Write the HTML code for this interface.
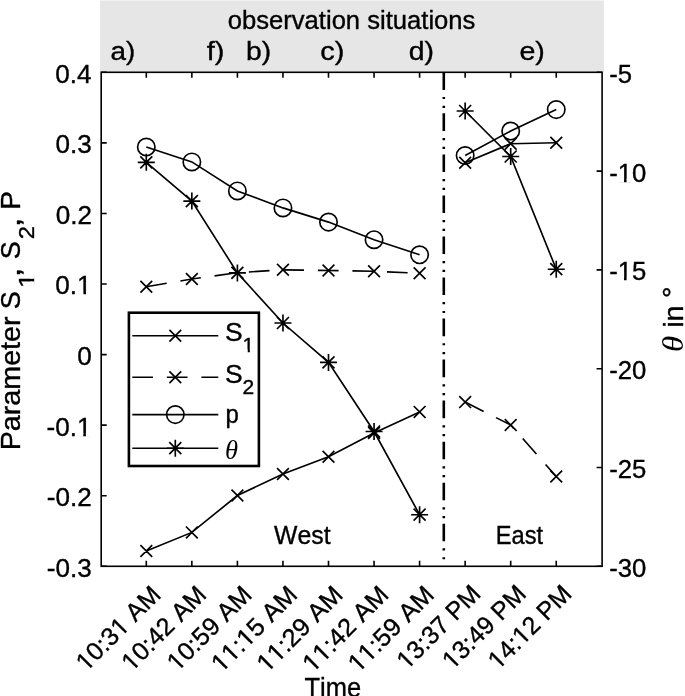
<!DOCTYPE html>
<html><head><meta charset="utf-8"><title>chart</title>
<style>html,body{margin:0;padding:0;background:#fff}svg{display:block}</style></head>
<body><svg width="685" height="696" viewBox="0 0 685 696">
<rect width="685" height="696" fill="#fff"/>
<rect x="100.0" y="0.5" width="503.9" height="71.8" fill="#e6e6e6"/>
<g stroke="#000" stroke-width="1.6" fill="none" stroke-linecap="butt">
<rect x="101.2" y="72.3" width="500.90" height="494.00"/>
<path d="M146.30 72.3v5.5M146.30 566.3v-5.5M191.85 72.3v5.5M191.85 566.3v-5.5M237.40 72.3v5.5M237.40 566.3v-5.5M282.95 72.3v5.5M282.95 566.3v-5.5M328.50 72.3v5.5M328.50 566.3v-5.5M374.05 72.3v5.5M374.05 566.3v-5.5M419.60 72.3v5.5M419.60 566.3v-5.5M465.15 72.3v5.5M465.15 566.3v-5.5M510.70 72.3v5.5M510.70 566.3v-5.5M556.25 72.3v5.5M556.25 566.3v-5.5M101.2 72.30h5.5M101.2 142.87h5.5M101.2 213.44h5.5M101.2 284.01h5.5M101.2 354.59h5.5M101.2 425.16h5.5M101.2 495.73h5.5M101.2 566.30h5.5M602.1 72.30h-5.5M602.1 171.10h-5.5M602.1 269.90h-5.5M602.1 368.70h-5.5M602.1 467.50h-5.5M602.1 566.30h-5.5"/>
</g>
<g stroke="#000" stroke-width="1.65" fill="none">
<polyline points="146.30,551.00 191.85,532.40 237.40,495.50 282.95,474.00 328.50,456.70 374.05,432.90 419.60,411.90" />
<polyline points="465.15,162.70 510.70,143.70 556.25,142.80" />
<polyline points="146.30,286.70 191.85,279.00 237.40,272.70 282.95,269.80 328.50,270.50 374.05,271.30 419.60,273.20" stroke-dasharray="20.7 13.85"/>
<polyline points="465.15,402.10 510.70,425.00 556.25,476.50" stroke-dasharray="20.7 13.85"/>
<polyline points="146.30,147.00 191.85,161.90 237.40,190.90 282.95,207.90 328.50,222.10 374.05,239.70 419.60,254.80" />
<polyline points="465.15,155.50 510.70,131.00 556.25,109.60" />
<polyline points="146.30,162.30 191.85,201.10 237.40,272.90 282.95,323.00 328.50,362.40 374.05,431.50 419.60,514.70" />
<polyline points="465.15,111.00 510.70,156.50 556.25,269.20" />
<path d="M140.40 545.10L152.20 556.90M140.40 556.90L152.20 545.10M140.40 280.80L152.20 292.60M140.40 292.60L152.20 280.80M140.30 156.30L152.30 168.30M140.30 168.30L152.30 156.30M137.80 162.30H154.80M146.30 153.80V170.80M185.95 526.50L197.75 538.30M185.95 538.30L197.75 526.50M185.95 273.10L197.75 284.90M185.95 284.90L197.75 273.10M185.85 195.10L197.85 207.10M185.85 207.10L197.85 195.10M183.35 201.10H200.35M191.85 192.60V209.60M231.50 489.60L243.30 501.40M231.50 501.40L243.30 489.60M231.50 266.80L243.30 278.60M231.50 278.60L243.30 266.80M231.40 266.90L243.40 278.90M231.40 278.90L243.40 266.90M228.90 272.90H245.90M237.40 264.40V281.40M277.05 468.10L288.85 479.90M277.05 479.90L288.85 468.10M277.05 263.90L288.85 275.70M277.05 275.70L288.85 263.90M276.95 317.00L288.95 329.00M276.95 329.00L288.95 317.00M274.45 323.00H291.45M282.95 314.50V331.50M322.60 450.80L334.40 462.60M322.60 462.60L334.40 450.80M322.60 264.60L334.40 276.40M322.60 276.40L334.40 264.60M322.50 356.40L334.50 368.40M322.50 368.40L334.50 356.40M320.00 362.40H337.00M328.50 353.90V370.90M368.15 427.00L379.95 438.80M368.15 438.80L379.95 427.00M368.15 265.40L379.95 277.20M368.15 277.20L379.95 265.40M368.05 425.50L380.05 437.50M368.05 437.50L380.05 425.50M365.55 431.50H382.55M374.05 423.00V440.00M413.70 406.00L425.50 417.80M413.70 417.80L425.50 406.00M413.70 267.30L425.50 279.10M413.70 279.10L425.50 267.30M413.60 508.70L425.60 520.70M413.60 520.70L425.60 508.70M411.10 514.70H428.10M419.60 506.20V523.20M459.25 156.80L471.05 168.60M459.25 168.60L471.05 156.80M459.25 396.20L471.05 408.00M459.25 408.00L471.05 396.20M459.15 105.00L471.15 117.00M459.15 117.00L471.15 105.00M456.65 111.00H473.65M465.15 102.50V119.50M504.80 137.80L516.60 149.60M504.80 149.60L516.60 137.80M504.80 419.10L516.60 430.90M504.80 430.90L516.60 419.10M504.70 150.50L516.70 162.50M504.70 162.50L516.70 150.50M502.20 156.50H519.20M510.70 148.00V165.00M550.35 136.90L562.15 148.70M550.35 148.70L562.15 136.90M550.35 470.60L562.15 482.40M550.35 482.40L562.15 470.60M550.25 263.20L562.25 275.20M550.25 275.20L562.25 263.20M547.75 269.20H564.75M556.25 260.70V277.70"/>
<circle cx="146.30" cy="147.00" r="8.7"/>
<circle cx="191.85" cy="161.90" r="8.7"/>
<circle cx="237.40" cy="190.90" r="8.7"/>
<circle cx="282.95" cy="207.90" r="8.7"/>
<circle cx="328.50" cy="222.10" r="8.7"/>
<circle cx="374.05" cy="239.70" r="8.7"/>
<circle cx="419.60" cy="254.80" r="8.7"/>
<circle cx="465.15" cy="155.50" r="8.7"/>
<circle cx="510.70" cy="131.00" r="8.7"/>
<circle cx="556.25" cy="109.60" r="8.7"/>
</g>
<line x1="443.8" y1="72.3" x2="443.8" y2="564.3" stroke="#000" stroke-width="2.6" stroke-dasharray="17.6 7.0 2.2 6.6 2.2 5.44"/>
<rect x="128.9" y="312.7" width="130.0" height="153.3" fill="#fff" stroke="#000" stroke-width="2.6"/>
<g stroke="#000" stroke-width="1.65" fill="none">
<line x1="132.3" y1="335.7" x2="218.3" y2="335.7" />
<line x1="132.3" y1="377.2" x2="218.3" y2="377.2" stroke-dasharray="20.7 13.85"/>
<line x1="132.3" y1="414.6" x2="218.3" y2="414.6" />
<line x1="132.3" y1="448.2" x2="218.3" y2="448.2" />
<path d="M169.40 329.80L181.20 341.60M169.40 341.60L181.20 329.80M169.40 371.30L181.20 383.10M169.40 383.10L181.20 371.30M169.30 442.20L181.30 454.20M169.30 454.20L181.30 442.20M166.80 448.20H183.80M175.30 439.70V456.70"/>
<circle cx="175.3" cy="414.6" r="8.7"/>
</g>
<g font-family="Liberation Sans, Arial, Helvetica, sans-serif" fill="#000" stroke="#000" stroke-width="0.36" style="font-kerning:none">
<text transform="translate(227.78,29.30) scale(1.0162,1)" font-size="25.2" >observation situations</text>
<text transform="translate(110.56,60.20) scale(1.1038,1)" font-size="25.2" >a)</text>
<text transform="translate(206.77,60.20) scale(1.1481,1)" font-size="25.2" >f)</text>
<text transform="translate(246.08,60.20) scale(1.1221,1)" font-size="25.2" >b)</text>
<text transform="translate(320.21,60.20) scale(1.1483,1)" font-size="25.2" >c)</text>
<text transform="translate(408.67,60.20) scale(1.1270,1)" font-size="25.2" >d)</text>
<text transform="translate(519.42,60.20) scale(1.1342,1)" font-size="25.2" >e)</text>
<text transform="translate(55.15,82.70) scale(1.0350,1)" font-size="25.2" >0.4</text>
<text transform="translate(55.54,153.27) scale(1.0350,1)" font-size="25.2" >0.3</text>
<text transform="translate(55.67,223.84) scale(1.0350,1)" font-size="25.2" >0.2</text>
<text transform="translate(55.27,294.41) scale(1.0350,1)" font-size="25.2" >0.1</text>
<text transform="translate(77.14,364.99) scale(1.0350,1)" font-size="25.2" >0</text>
<text transform="translate(46.47,435.56) scale(1.0350,1)" font-size="25.2" >-0.1</text>
<text transform="translate(46.87,506.13) scale(1.0350,1)" font-size="25.2" >-0.2</text>
<text transform="translate(46.74,576.70) scale(1.0350,1)" font-size="25.2" >-0.3</text>
<text transform="translate(609.15,82.70) scale(1.0195,1)" font-size="25.2" >-5</text>
<text transform="translate(609.15,181.50) scale(1.0195,1)" font-size="25.2" >-10</text>
<text transform="translate(609.15,280.30) scale(1.0195,1)" font-size="25.2" >-15</text>
<text transform="translate(609.15,379.10) scale(1.0195,1)" font-size="25.2" >-20</text>
<text transform="translate(609.15,477.90) scale(1.0195,1)" font-size="25.2" >-25</text>
<text transform="translate(609.15,576.70) scale(1.0195,1)" font-size="25.2" >-30</text>
<text transform="translate(274.08,543.80) scale(0.9850,1)" font-size="25.2" >West</text>
<text transform="translate(495.80,543.80) scale(0.9389,1)" font-size="25.2" >East</text>
<text transform="translate(162.20,596.20) rotate(-45) scale(0.9964,1)" text-anchor="end" font-size="25.2">10:31 AM</text>
<text transform="translate(207.75,596.20) rotate(-45) scale(0.9964,1)" text-anchor="end" font-size="25.2">10:42 AM</text>
<text transform="translate(253.30,596.20) rotate(-45) scale(0.9964,1)" text-anchor="end" font-size="25.2">10:59 AM</text>
<text transform="translate(298.85,596.20) rotate(-45) scale(1.0142,1)" text-anchor="end" font-size="25.2">11:15 AM</text>
<text transform="translate(344.40,596.20) rotate(-45) scale(1.0142,1)" text-anchor="end" font-size="25.2">11:29 AM</text>
<text transform="translate(389.95,596.20) rotate(-45) scale(1.0142,1)" text-anchor="end" font-size="25.2">11:42 AM</text>
<text transform="translate(435.50,596.20) rotate(-45) scale(1.0142,1)" text-anchor="end" font-size="25.2">11:59 AM</text>
<text transform="translate(482.05,595.40) rotate(-45) scale(0.9835,1)" text-anchor="end" font-size="25.2">13:37 PM</text>
<text transform="translate(527.60,595.40) rotate(-45) scale(0.9835,1)" text-anchor="end" font-size="25.2">13:49 PM</text>
<text transform="translate(573.15,595.40) rotate(-45) scale(0.9835,1)" text-anchor="end" font-size="25.2">14:12 PM</text>
<text transform="translate(304.43,696.60) scale(0.9172,1)" font-size="27.8" >Time</text>
<text transform="translate(20.30,450.32) rotate(-90) scale(1.0320,1)" font-size="27.8" >Parameter</text>
<text transform="translate(20.30,309.21) rotate(-90) scale(0.9688,1)" font-size="27.8" >S</text>
<text transform="translate(33.5,287.9) rotate(-90) scale(1.2,1)" font-size="22">1</text>
<text transform="translate(20.30,277.28) rotate(-90) scale(1.2727,1)" font-size="27.8" >,</text>
<text transform="translate(20.30,259.21) rotate(-90) scale(0.9688,1)" font-size="27.8" >S</text>
<text transform="translate(33.50,239.13) rotate(-90) scale(1.0900,1)" font-size="22" >2</text>
<text transform="translate(20.30,227.28) rotate(-90) scale(1.2727,1)" font-size="27.8" >,</text>
<text transform="translate(20.30,209.67) rotate(-90) scale(1.0102,1)" font-size="27.8" >P</text>
<text transform="translate(683.20,352.04) rotate(-90) scale(1.0960,1)" font-size="30" font-family="Liberation Serif, Times New Roman, serif" font-style="italic" stroke="none">θ</text>
<text transform="translate(682.90,327.86) rotate(-90) scale(1.0479,1)" font-size="27.5" >in</text>
<text transform="translate(682.20,297.88) rotate(-90) scale(1.0323,1)" font-size="27.8" >°</text>
<text transform="translate(225,341.4) scale(1.05,1)" font-size="25.2">S</text>
<text transform="translate(242.6,352.0) scale(1.05,1)" font-size="20">1</text>
<text transform="translate(225,383) scale(1.05,1)" font-size="25.2">S</text>
<text transform="translate(242.6,393.6) scale(1.05,1)" font-size="20">2</text>
<text transform="translate(225.4,423) scale(0.95,1)" font-size="25.2">p</text>
<text transform="translate(225,458.7)" font-family="Liberation Serif, Times New Roman, serif" font-style="italic" font-size="26.5" stroke="none">θ</text>
<g transform="translate(55.27,294.41) scale(1.0350,1)" fill="#fff" stroke="none"><rect x="21.80" y="-2.68" width="5.37" height="3.88"/><rect x="29.71" y="-2.68" width="5.16" height="3.88"/></g>
<g transform="translate(46.47,435.56) scale(1.0350,1)" fill="#fff" stroke="none"><rect x="30.19" y="-2.68" width="5.37" height="3.88"/><rect x="38.09" y="-2.68" width="5.16" height="3.88"/></g>
<g transform="translate(609.15,181.50) scale(1.0195,1)" fill="#fff" stroke="none"><rect x="9.20" y="-2.68" width="5.37" height="3.88"/><rect x="17.10" y="-2.68" width="5.16" height="3.88"/></g>
<g transform="translate(609.15,280.30) scale(1.0195,1)" fill="#fff" stroke="none"><rect x="9.20" y="-2.68" width="5.37" height="3.88"/><rect x="17.10" y="-2.68" width="5.16" height="3.88"/></g>
<g transform="translate(162.20,596.20) rotate(-45) scale(0.9964,1)" fill="#fff" stroke="none"><rect x="-106.99" y="-2.68" width="5.37" height="3.88"/><rect x="-99.09" y="-2.68" width="5.16" height="3.88"/></g>
<g transform="translate(162.20,596.20) rotate(-45) scale(0.9964,1)" fill="#fff" stroke="none"><rect x="-57.98" y="-2.68" width="5.37" height="3.88"/><rect x="-50.08" y="-2.68" width="5.16" height="3.88"/></g>
<g transform="translate(207.75,596.20) rotate(-45) scale(0.9964,1)" fill="#fff" stroke="none"><rect x="-106.99" y="-2.68" width="5.37" height="3.88"/><rect x="-99.09" y="-2.68" width="5.16" height="3.88"/></g>
<g transform="translate(253.30,596.20) rotate(-45) scale(0.9964,1)" fill="#fff" stroke="none"><rect x="-106.99" y="-2.68" width="5.37" height="3.88"/><rect x="-99.09" y="-2.68" width="5.16" height="3.88"/></g>
<g transform="translate(298.85,596.20) rotate(-45) scale(1.0142,1)" fill="#fff" stroke="none"><rect x="-106.96" y="-2.68" width="5.37" height="3.88"/><rect x="-99.06" y="-2.68" width="5.16" height="3.88"/></g>
<g transform="translate(298.85,596.20) rotate(-45) scale(1.0142,1)" fill="#fff" stroke="none"><rect x="-92.97" y="-2.68" width="5.37" height="3.88"/><rect x="-85.07" y="-2.68" width="5.16" height="3.88"/></g>
<g transform="translate(298.85,596.20) rotate(-45) scale(1.0142,1)" fill="#fff" stroke="none"><rect x="-71.96" y="-2.68" width="5.37" height="3.88"/><rect x="-64.06" y="-2.68" width="5.16" height="3.88"/></g>
<g transform="translate(344.40,596.20) rotate(-45) scale(1.0142,1)" fill="#fff" stroke="none"><rect x="-106.96" y="-2.68" width="5.37" height="3.88"/><rect x="-99.06" y="-2.68" width="5.16" height="3.88"/></g>
<g transform="translate(344.40,596.20) rotate(-45) scale(1.0142,1)" fill="#fff" stroke="none"><rect x="-92.97" y="-2.68" width="5.37" height="3.88"/><rect x="-85.07" y="-2.68" width="5.16" height="3.88"/></g>
<g transform="translate(389.95,596.20) rotate(-45) scale(1.0142,1)" fill="#fff" stroke="none"><rect x="-106.96" y="-2.68" width="5.37" height="3.88"/><rect x="-99.06" y="-2.68" width="5.16" height="3.88"/></g>
<g transform="translate(389.95,596.20) rotate(-45) scale(1.0142,1)" fill="#fff" stroke="none"><rect x="-92.97" y="-2.68" width="5.37" height="3.88"/><rect x="-85.07" y="-2.68" width="5.16" height="3.88"/></g>
<g transform="translate(435.50,596.20) rotate(-45) scale(1.0142,1)" fill="#fff" stroke="none"><rect x="-106.96" y="-2.68" width="5.37" height="3.88"/><rect x="-99.06" y="-2.68" width="5.16" height="3.88"/></g>
<g transform="translate(435.50,596.20) rotate(-45) scale(1.0142,1)" fill="#fff" stroke="none"><rect x="-92.97" y="-2.68" width="5.37" height="3.88"/><rect x="-85.07" y="-2.68" width="5.16" height="3.88"/></g>
<g transform="translate(482.05,595.40) rotate(-45) scale(0.9835,1)" fill="#fff" stroke="none"><rect x="-107.02" y="-2.68" width="5.37" height="3.88"/><rect x="-99.12" y="-2.68" width="5.16" height="3.88"/></g>
<g transform="translate(527.60,595.40) rotate(-45) scale(0.9835,1)" fill="#fff" stroke="none"><rect x="-107.02" y="-2.68" width="5.37" height="3.88"/><rect x="-99.12" y="-2.68" width="5.16" height="3.88"/></g>
<g transform="translate(573.15,595.40) rotate(-45) scale(0.9835,1)" fill="#fff" stroke="none"><rect x="-107.02" y="-2.68" width="5.37" height="3.88"/><rect x="-99.12" y="-2.68" width="5.16" height="3.88"/></g>
<g transform="translate(573.15,595.40) rotate(-45) scale(0.9835,1)" fill="#fff" stroke="none"><rect x="-72.02" y="-2.68" width="5.37" height="3.88"/><rect x="-64.11" y="-2.68" width="5.16" height="3.88"/></g>
<g transform="translate(33.5,287.9) rotate(-90) scale(1.2,1)" fill="#fff" stroke="none"><rect x="0.57" y="-2.44" width="4.81" height="3.64"/><rect x="7.63" y="-2.44" width="4.62" height="3.64"/></g>
<g transform="translate(242.6,352.0) scale(1.05,1)" fill="#fff" stroke="none"><rect x="0.42" y="-2.29" width="4.46" height="3.49"/><rect x="6.95" y="-2.29" width="4.29" height="3.49"/></g>
</g>
</svg></body></html>
